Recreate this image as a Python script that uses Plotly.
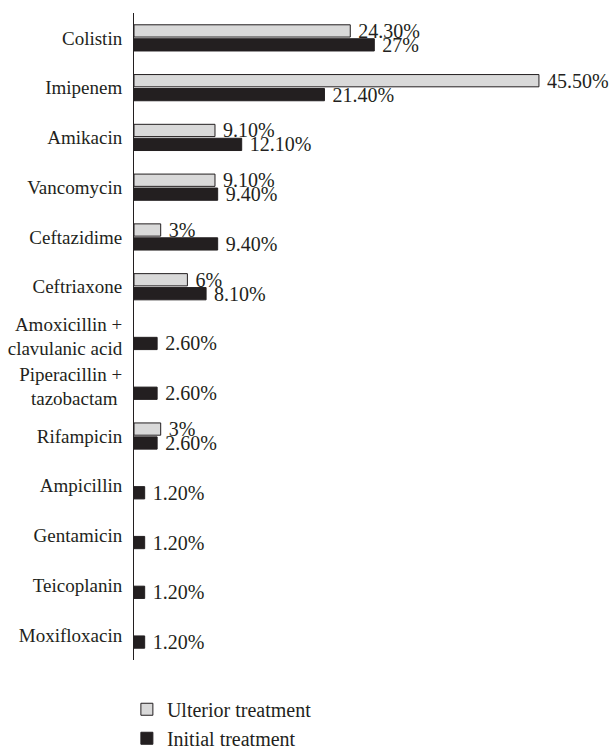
import plotly.graph_objects as go

categories = ["Colistin", "Imipenem", "Amikacin", "Vancomycin", "Ceftazidime", "Ceftriaxone",
              "Amoxicillin +<br>clavulanic acid", "Piperacillin +<br>tazobactam ", "Rifampicin",
              "Ampicillin", "Gentamicin", "Teicoplanin", "Moxifloxacin"]
ulterior = [24.3, 45.5, 9.1, 9.1, 3, 6, None, None, 3, None, None, None, None]
initial = [27, 21.4, 12.1, 9.4, 9.4, 8.1, 2.6, 2.6, 2.6, 1.2, 1.2, 1.2, 1.2]


def fmt(v):
    if v is None:
        return ""
    return " " + (f"{int(v)}%" if float(v).is_integer() else f"{v:.2f}%")


font = dict(family="Liberation Serif, DejaVu Serif, serif", size=19, color="#231f20")
valfont = dict(family="Liberation Serif, DejaVu Serif, serif", size=20, color="#231f20")
legfont = dict(family="Liberation Serif, DejaVu Serif, serif", size=20, color="#231f20")

fig = go.Figure()
fig.add_trace(go.Bar(
    y=categories, x=ulterior, orientation="h", name="Ulterior treatment",
    marker=dict(color="#d9d9d9", line=dict(color="#231f20", width=1)),
    text=[fmt(v) for v in ulterior], textposition="outside", constraintext="none",
    cliponaxis=False, textfont=valfont,
))
fig.add_trace(go.Bar(
    y=categories, x=initial, orientation="h", name="Initial treatment",
    marker=dict(color="#231f20", line=dict(color="#231f20", width=1)),
    text=[fmt(v) for v in initial], textposition="outside", constraintext="none",
    cliponaxis=False, textfont=valfont,
))

fig.update_layout(
    width=611, height=747,
    margin=dict(l=134, r=32, t=13, b=87, autoexpand=False),
    barmode="group", bargap=0.44, bargroupgap=0.12,
    plot_bgcolor="white", paper_bgcolor="white",
    font=font,
    showlegend=True,
    legend=dict(x=-0.016, y=-0.046, xanchor="left", yanchor="top",
                traceorder="normal", font=legfont, tracegroupgap=0, itemwidth=30,
                bgcolor="rgba(0,0,0,0)"),
    xaxis=dict(range=[0, 50], visible=False, showgrid=False, zeroline=False, automargin=False),
    yaxis=dict(autorange="reversed", showline=True, linecolor="#231f20", linewidth=1,
               ticks="", showgrid=False, ticklabelstandoff=7, tickfont=font, automargin=False),
)

fig.write_html("out.html", config={"displayModeBar": False},
               post_script="document.body.style.margin='0';document.body.style.overflow='hidden';")
